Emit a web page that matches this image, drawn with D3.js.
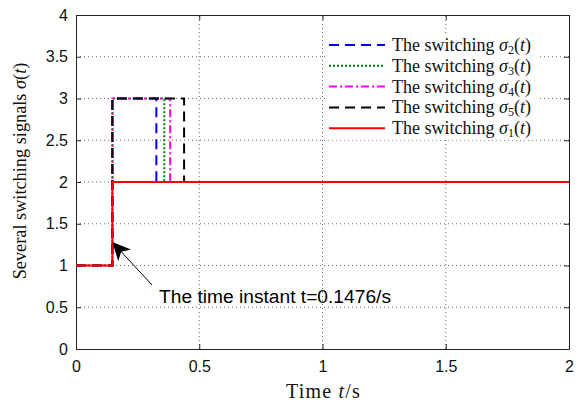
<!DOCTYPE html>
<html>
<head>
<meta charset="utf-8">
<script src="https://cdn.jsdelivr.net/npm/d3@7"></script>
<style>
body { margin: 0; background: #fff; }
svg { display: block; }
</style>
</head>
<body>
<script>
// switching instants (t in seconds, sigma value)
var sigma2 = [[0, 1], [0.1476, 1], [0.1476, 3], [0.326, 3], [0.326, 2], [2, 2]]
var sigma3 = [[0, 1], [0.1476, 1], [0.1476, 3], [0.358, 3], [0.358, 2], [2, 2]]
var sigma4 = [[0, 1], [0.1476, 1], [0.1476, 3], [0.382, 3], [0.382, 2], [2, 2]]
var sigma5 = [[0, 1], [0.1476, 1], [0.1476, 3], [0.4385, 3], [0.4385, 2], [2, 2]]
var sigma1 = [[0, 1], [0.1476, 1], [0.1476, 2], [2, 2]]

var legendSubs = ["2", "3", "4", "5", "1"]
var xTicks = [0, 0.5, 1, 1.5, 2]
var yTicks = [0, 0.5, 1, 1.5, 2, 2.5, 3, 3.5, 4]
var arrowPoint = [0.1476, 1.28]

var W = 583, H = 406
var m = {left: 76, right: 14, top: 15, bottom: 57}

var svg = d3.select("body").append("svg").attr("width", W).attr("height", H)

var x = d3.scaleLinear().domain([0, 2]).range([m.left, W - m.right])
var y = d3.scaleLinear().domain([0, 4]).range([H - m.bottom, m.top])

var sans = "Liberation Sans, Arial, sans-serif"
var serif = "Liberation Serif, Times New Roman, serif"

//grid
svg.append("g").selectAll("line").data(xTicks.slice(1, -1)).enter().append("line")
    .attr("x1", function(d){return x(d)}).attr("x2", function(d){return x(d)})
    .attr("y1", y(0)).attr("y2", y(4))
    .attr("stroke", "#444").attr("stroke-width", 0.8).attr("stroke-dasharray", "1,3")
svg.append("g").selectAll("line").data(yTicks.slice(1, -1)).enter().append("line")
    .attr("y1", function(d){return y(d)}).attr("y2", function(d){return y(d)})
    .attr("x1", x(0)).attr("x2", x(2))
    .attr("stroke", "#444").attr("stroke-width", 0.8).attr("stroke-dasharray", "1,3")

//axes with inward ticks
svg.append("g").attr("transform", "translate(0," + y(0) + ")")
    .call(d3.axisBottom(x).tickValues(xTicks).tickSizeInner(-5).tickSizeOuter(0).tickPadding(12).tickFormat(d3.format("")))
svg.append("g").attr("transform", "translate(" + x(0) + ",0)")
    .call(d3.axisLeft(y).tickValues(yTicks).tickSizeInner(-5).tickSizeOuter(0).tickPadding(8).tickFormat(d3.format("")))
svg.append("g").attr("transform", "translate(0," + y(4) + ")")
    .call(d3.axisTop(x).tickValues(xTicks).tickSizeInner(-5).tickSizeOuter(0).tickFormat(""))
svg.append("g").attr("transform", "translate(" + x(2) + ",0)")
    .call(d3.axisRight(y).tickValues(yTicks).tickSizeInner(-5).tickSizeOuter(0).tickFormat(""))
svg.selectAll(".domain").attr("stroke", "#222")
svg.selectAll(".tick line").attr("stroke", "#222")
svg.selectAll(".tick text").attr("font-family", sans).attr("font-size", 16).attr("fill", "#111")

//signals
var line = d3.line().x(function(d){return x(d[0])}).y(function(d){return y(d[1])})
var series = [
  {data: sigma2, color: "#0000ff", dash: "10,6"},
  {data: sigma3, color: "#007f00", dash: "2,2"},
  {data: sigma4, color: "#ff00ff", dash: "8,3,2,3"},
  {data: sigma5, color: "#000000", dash: "10,6"},
  {data: sigma1, color: "#ff0000", dash: null}
]
svg.append("g").selectAll("path").data(series).enter().append("path")
    .attr("d", function(d){return line(d.data)})
    .attr("fill", "none")
    .attr("stroke", function(d){return d.color})
    .attr("stroke-width", 2)
    .attr("stroke-dasharray", function(d){return d.dash})

//legend
var lg = svg.append("g").attr("transform", "translate(325,34)")
lg.append("rect").attr("width", 215).attr("height", 106).attr("fill", "#fff")
var item = lg.selectAll("g").data(series).enter().append("g")
    .attr("transform", function(d, i){return "translate(0," + (11 + i * 20.8) + ")"})
item.append("line").attr("x1", 4).attr("x2", 60)
    .attr("stroke", function(d){return d.color}).attr("stroke-width", 2)
    .attr("stroke-dasharray", function(d){return d.dash})
var txt = item.append("text").attr("x", 67).attr("y", 6)
    .attr("font-family", serif).attr("font-size", 18).attr("fill", "#111")
txt.append("tspan").text("The switching ")
txt.append("tspan").attr("font-style", "italic").text("σ")
txt.append("tspan").attr("font-size", 12).attr("dy", 3).text(function(d, i){return legendSubs[i]})
txt.append("tspan").attr("dy", -3).text("(")
txt.append("tspan").attr("font-style", "italic").text("t")
txt.append("tspan").text(")")

//annotation arrow
var ax = x(arrowPoint[0]), ay = y(arrowPoint[1])
var tx = 152, ty = 285
var ang = Math.atan2(ty - ay, tx - ax)
svg.append("line").attr("x1", tx).attr("y1", ty).attr("x2", ax + 10 * Math.cos(ang)).attr("y2", ay + 10 * Math.sin(ang))
    .attr("stroke", "#000").attr("stroke-width", 1)
function pt(r, da){return [ax + r * Math.cos(ang + da), ay + r * Math.sin(ang + da)]}
svg.append("path")
    .attr("d", "M" + [ax, ay] + "L" + pt(20, 0.45) + "L" + pt(13, 0) + "L" + pt(20, -0.45) + "Z")
    .attr("fill", "#000")
svg.append("text").attr("x", 159).attr("y", 303)
    .attr("font-family", sans).attr("font-size", 19.2).attr("fill", "#000")
    .text("The time instant t=0.1476/s")

//axis labels
var xl = svg.append("text").attr("x", x(1) + 1).attr("y", 398).attr("text-anchor", "middle")
    .attr("font-family", serif).attr("font-size", 20).attr("letter-spacing", 1.2).attr("fill", "#111")
xl.append("tspan").text("Time ")
xl.append("tspan").attr("font-style", "italic").text("t")
xl.append("tspan").text("/s")

var yl = svg.append("text").attr("transform", "translate(26,171) rotate(-90)")
    .attr("text-anchor", "middle")
    .attr("font-family", serif).attr("font-size", 18.3).attr("fill", "#111")
yl.append("tspan").text("Several switching signals ")
yl.append("tspan").attr("font-style", "italic").text("σ")
yl.append("tspan").text("(")
yl.append("tspan").attr("font-style", "italic").text("t")
yl.append("tspan").text(")")
</script>
</body>
</html>
